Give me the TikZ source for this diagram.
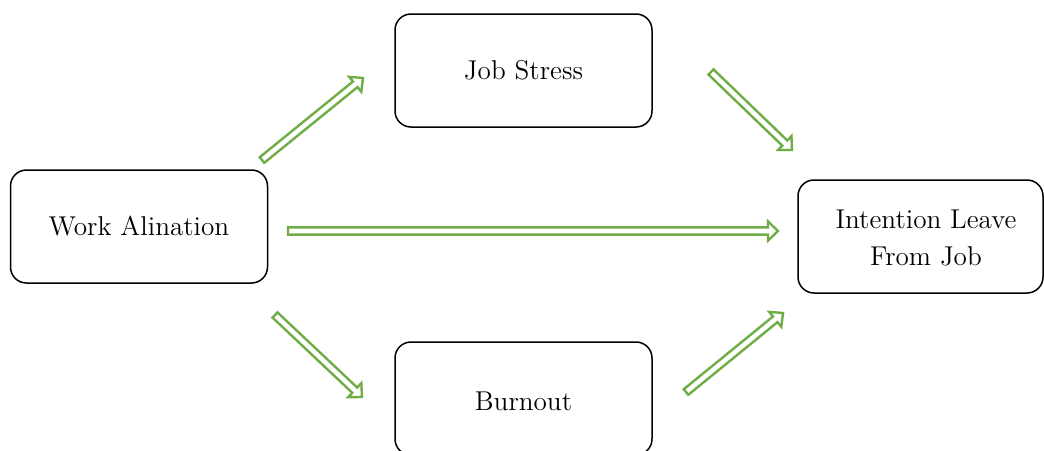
\documentclass[tikz,border=0pt]{standalone}
\usetikzlibrary{calc}
\definecolor{arrgreen}{HTML}{70AD47}
\tikzset{
  box/.style={draw=black, line width=0.75pt, rounded corners=8pt, minimum width=128.5pt, minimum height=56.5pt, inner sep=0pt, align=center, font=\fontsize{13.6}{18.5}\selectfont},
  lbl/.style={align=center, font=\fontsize{13.6}{18.5}\selectfont, inner sep=0pt},
  hollow/.style={draw=arrgreen, line width=1.2pt, line join=miter, fill=white}
}
\newcommand\hollowarrow[2]{%
  \draw[hollow]
    ($(#1)!1.8pt!90:(#2)$) --
    ($($(#2)!5pt!(#1)$)!1.8pt!90:(#2)$) --
    ($($(#2)!5pt!(#1)$)!4.8pt!90:(#2)$) --
    (#2) --
    ($($(#2)!5pt!(#1)$)!4.8pt!-90:(#2)$) --
    ($($(#2)!5pt!(#1)$)!1.8pt!-90:(#2)$) --
    ($(#1)!1.8pt!-90:(#2)$) -- cycle;}
\begin{document}
\begin{tikzpicture}[x=0.5pt, y=-0.5pt]
\useasboundingbox (0,0) rectangle (1044,450);
\begin{scope}
\clip (0,0) rectangle (1044,450);
\node[box] (js) at (523.5,70.5) {Job Stress};
\node[box] (wa) at (139,226.5) {Work Alination};
\node[box, minimum width=122.5pt] (il) at (920.5,236.5) {};
\node[lbl] (ilt) at (926,238) {Intention Leave\\From Job};
\node[box] (bo) at (523.5,398.5) {};
\node[lbl] (bot) at (523.5,401) {Burnout};
\end{scope}
\coordinate (a1s) at (262,160); \coordinate (a1e) at (363,78);
\coordinate (a2s) at (711,72);  \coordinate (a2e) at (792,150);
\coordinate (a3s) at (288,231); \coordinate (a3e) at (778,231);
\coordinate (a4s) at (275,315); \coordinate (a4e) at (362,397);
\coordinate (a5s) at (686,392); \coordinate (a5e) at (783,313);
\hollowarrow{a1s}{a1e}
\hollowarrow{a2s}{a2e}
\hollowarrow{a3s}{a3e}
\hollowarrow{a4s}{a4e}
\hollowarrow{a5s}{a5e}
\end{tikzpicture}
\end{document}
